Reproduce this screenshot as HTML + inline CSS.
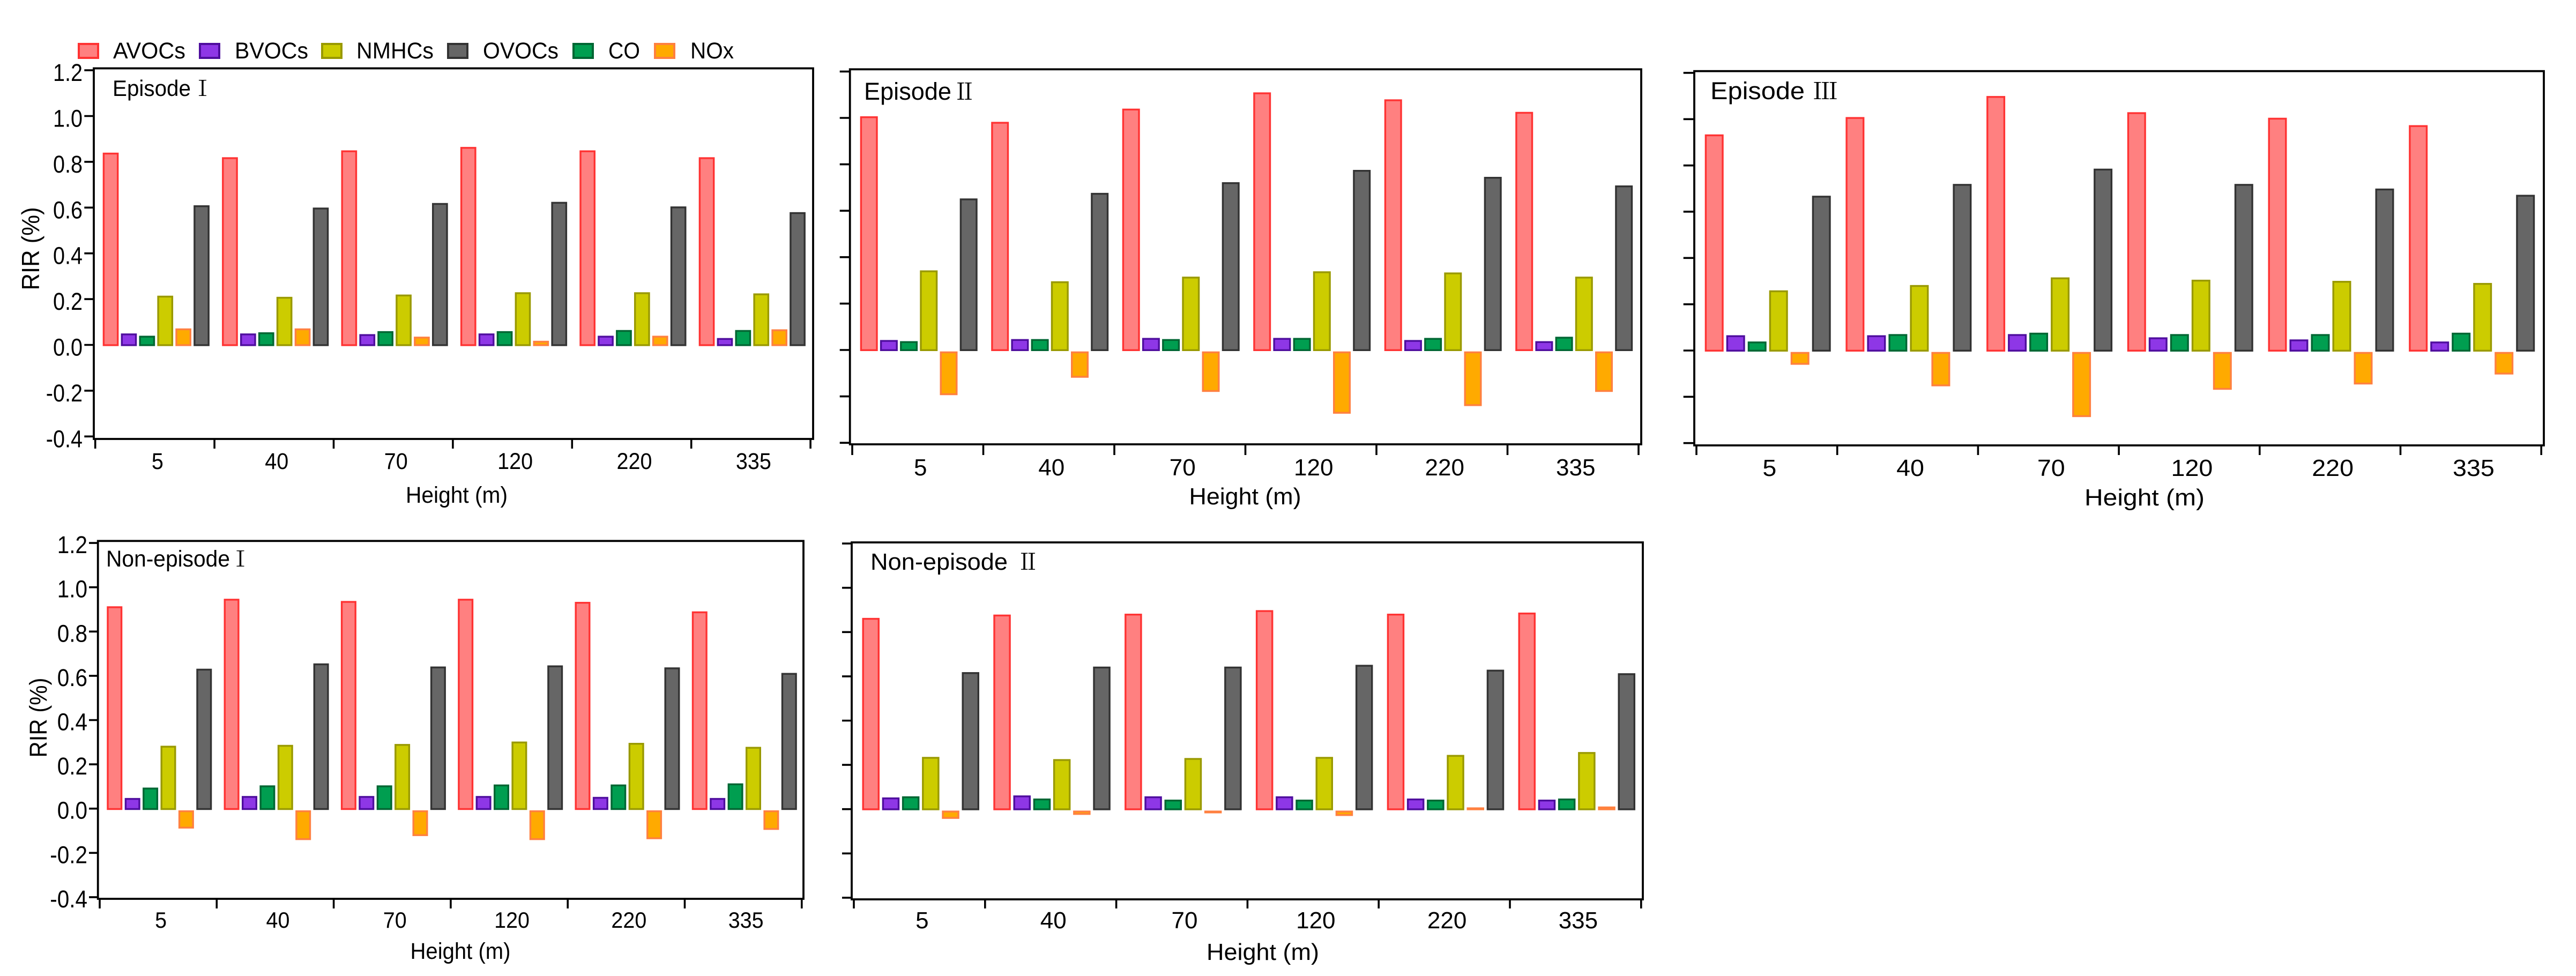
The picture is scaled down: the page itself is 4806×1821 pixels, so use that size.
<!DOCTYPE html>
<html lang="en">
<head>
<meta charset="utf-8">
<title>RIR by height for episodes and non-episodes</title>
<style>
html,body{margin:0;padding:0;background:#fff;}
svg{display:block;}
text{font-family:"Liberation Sans",Arial,sans-serif;fill:#000;}
.roman{font-family:"Noto Serif CJK SC","Liberation Serif",serif;}
</style>
</head>
<body>
<svg id="chart" xmlns="http://www.w3.org/2000/svg" width="4806" height="1821" viewBox="0 0 4806 1821">
  <rect x="0" y="0" width="4806" height="1821" fill="#fff"/>

  <g>
    <g>
      <rect x="147" y="82" width="36" height="26" fill="#ff8080" stroke="#ff3333" stroke-width="4"/>
      <text x="211" y="109" font-size="43" textLength="135" lengthAdjust="spacingAndGlyphs">AVOCs</text>
    </g>
    <g>
      <rect x="373" y="82" width="36" height="26" fill="#8e37e6" stroke="#4f0e9e" stroke-width="4"/>
      <text x="438" y="109" font-size="43" textLength="137" lengthAdjust="spacingAndGlyphs">BVOCs</text>
    </g>
    <g>
      <rect x="601" y="82" width="36" height="26" fill="#cccc00" stroke="#999900" stroke-width="4"/>
      <text x="665" y="109" font-size="43" textLength="144" lengthAdjust="spacingAndGlyphs">NMHCs</text>
    </g>
    <g>
      <rect x="836" y="82" width="36" height="26" fill="#666666" stroke="#333333" stroke-width="4"/>
      <text x="901" y="109" font-size="43" textLength="141" lengthAdjust="spacingAndGlyphs">OVOCs</text>
    </g>
    <g>
      <rect x="1070" y="82" width="36" height="26" fill="#009e50" stroke="#006633" stroke-width="4"/>
      <text x="1135" y="109" font-size="43" textLength="59" lengthAdjust="spacingAndGlyphs">CO</text>
    </g>
    <g>
      <rect x="1222" y="82" width="36" height="26" fill="#ffaa00" stroke="#ff8040" stroke-width="4"/>
      <text x="1288" y="109" font-size="43" textLength="81" lengthAdjust="spacingAndGlyphs">NOx</text>
    </g>
  </g>

  <g id="panel-1">
    <rect x="175" y="127.5" width="1342" height="691.5" fill="none" stroke="#000" stroke-width="3.8"/>
    <text x="210" y="179" font-size="42" textLength="146" lengthAdjust="spacingAndGlyphs">Episode</text>
    <text class="roman" x="378" y="179" font-size="40" text-anchor="middle">Ⅰ</text>
    <text x="852" y="938" font-size="43" text-anchor="middle" textLength="190" lengthAdjust="spacingAndGlyphs">Height (m)</text>
    <text transform="translate(73,464) rotate(-90)" font-size="46" text-anchor="middle" textLength="155" lengthAdjust="spacingAndGlyphs">RIR (%)</text>
  </g>

  <g id="panel-2">
    <rect x="1585.7" y="129.3" width="1476.3" height="699.7" fill="none" stroke="#000" stroke-width="3.8"/>
    <text x="1612" y="186" font-size="45" textLength="163" lengthAdjust="spacingAndGlyphs">Episode</text>
    <text class="roman" x="1799.5" y="186" font-size="43" text-anchor="middle">Ⅱ</text>
    <text x="2323" y="941" font-size="44" text-anchor="middle" textLength="209" lengthAdjust="spacingAndGlyphs">Height (m)</text>
  </g>

  <g id="panel-3">
    <rect x="3161" y="132.7" width="1585" height="698.3" fill="none" stroke="#000" stroke-width="3.8"/>
    <text x="3191" y="185" font-size="45" textLength="176" lengthAdjust="spacingAndGlyphs">Episode</text>
    <text class="roman" x="3382" y="185" font-size="43" textLength="47" lengthAdjust="spacingAndGlyphs">Ⅲ</text>
    <text x="4001" y="943" font-size="44" text-anchor="middle" textLength="224" lengthAdjust="spacingAndGlyphs">Height (m)</text>
  </g>

  <g id="panel-4">
    <rect x="182.7" y="1009.3" width="1316.3" height="667.7" fill="none" stroke="#000" stroke-width="3.8"/>
    <text x="198" y="1057" font-size="43" textLength="231" lengthAdjust="spacingAndGlyphs">Non-episode</text>
    <text class="roman" x="448.5" y="1057" font-size="40" text-anchor="middle">Ⅰ</text>
    <text x="859" y="1789" font-size="43" text-anchor="middle" textLength="187" lengthAdjust="spacingAndGlyphs">Height (m)</text>
    <text transform="translate(87,1339) rotate(-90)" font-size="45" text-anchor="middle" textLength="149" lengthAdjust="spacingAndGlyphs">RIR (%)</text>
  </g>

  <g id="panel-5">
    <rect x="1589" y="1012" width="1476" height="666" fill="none" stroke="#000" stroke-width="3.8"/>
    <text x="1624" y="1063" font-size="44" textLength="256" lengthAdjust="spacingAndGlyphs">Non-episode</text>
    <text class="roman" x="1918" y="1063" font-size="42" text-anchor="middle">Ⅱ</text>
    <text x="2356" y="1791" font-size="44" text-anchor="middle" textLength="210" lengthAdjust="spacingAndGlyphs">Height (m)</text>
  </g>
</svg>

<script>
// ---- chart data ----
const categories = ['5', '40', '70', '120', '220', '335'];
const yTickValues = [1.2, 1.0, 0.8, 0.6, 0.4, 0.2, 0.0, -0.2, -0.4];

const ep1Avocs = [0.84, 0.82, 0.85, 0.865, 0.85, 0.82];
const ep1Bvocs = [0.05, 0.05, 0.047, 0.05, 0.04, 0.03];
const ep1Co    = [0.04, 0.055, 0.06, 0.06, 0.065, 0.065];
const ep1Nmhcs = [0.215, 0.21, 0.22, 0.23, 0.23, 0.225];
const ep1Nox   = [0.072, 0.072, 0.036, 0.018, 0.04, 0.068];
const ep1Ovocs = [0.61, 0.60, 0.62, 0.625, 0.605, 0.58];

const ep2Avocs = [1.007, 0.983, 1.04, 1.11, 1.08, 1.026];
const ep2Bvocs = [0.043, 0.047, 0.052, 0.052, 0.043, 0.038];
const ep2Co    = [0.038, 0.047, 0.047, 0.052, 0.052, 0.057];
const ep2Nmhcs = [0.343, 0.296, 0.316, 0.339, 0.334, 0.316];
const ep2Nox   = [-0.19, -0.115, -0.176, -0.27, -0.237, -0.176];
const ep2Ovocs = [0.653, 0.677, 0.723, 0.776, 0.746, 0.709];

const ep3Avocs = [0.934, 1.009, 1.10, 1.03, 1.006, 0.974];
const ep3Bvocs = [0.066, 0.066, 0.071, 0.057, 0.048, 0.039];
const ep3Co    = [0.039, 0.071, 0.077, 0.071, 0.071, 0.077];
const ep3Nmhcs = [0.26, 0.283, 0.316, 0.306, 0.301, 0.292];
const ep3Nox   = [-0.057, -0.15, -0.283, -0.165, -0.142, -0.099];
const ep3Ovocs = [0.669, 0.72, 0.786, 0.72, 0.70, 0.673];

const non1Avocs = [0.914, 0.948, 0.938, 0.948, 0.934, 0.891];
const non1Bvocs = [0.048, 0.057, 0.057, 0.057, 0.053, 0.048];
const non1Co    = [0.095, 0.105, 0.105, 0.109, 0.109, 0.114];
const non1Nmhcs = [0.284, 0.288, 0.292, 0.303, 0.297, 0.279];
const non1Nox   = [-0.084, -0.136, -0.118, -0.136, -0.132, -0.09];
const non1Ovocs = [0.632, 0.656, 0.642, 0.647, 0.638, 0.613];

const non2Avocs = [0.864, 0.879, 0.883, 0.899, 0.883, 0.888];
const non2Bvocs = [0.053, 0.062, 0.058, 0.058, 0.048, 0.043];
const non2Co    = [0.058, 0.048, 0.043, 0.043, 0.043, 0.048];
const non2Nmhcs = [0.236, 0.226, 0.231, 0.236, 0.245, 0.258];
const non2Nox   = [-0.039, -0.021, -0.014, -0.026, 0.008, 0.012];
const non2Ovocs = [0.619, 0.644, 0.644, 0.652, 0.63, 0.614];

// ---- styles and layout (separate from data) ----
const seriesStyles = [
  {key: 'avocs', fill: '#ff8080', stroke: '#ff3333'},
  {key: 'bvocs', fill: '#8e37e6', stroke: '#4f0e9e'},
  {key: 'co',    fill: '#009e50', stroke: '#006633'},
  {key: 'nmhcs', fill: '#cccc00', stroke: '#999900'},
  {key: 'nox',   fill: '#ffaa00', stroke: '#ff8040'},
  {key: 'ovocs', fill: '#666666', stroke: '#333333'}
];

const panels = [
  {id: 'panel-1', series: [ep1Avocs, ep1Bvocs, ep1Co, ep1Nmhcs, ep1Nox, ep1Ovocs],
   axisX: 175, x0: 177.7, groupW: 222.4, y0: 643.5, k: 427, baseOff: 2.2, barOff: 14, pitch: 33.9, barW: 29.7,
   frameBottom: 819, tickBottom: 837, tickLen: 17.7, labelBase: 875, labelSize: 43, labelSx: 0.92,
   showY: true, yEnd: 154, ySx: 0.88, ySize: 45, yDrop: 20},
  {id: 'panel-2', series: [ep2Avocs, ep2Bvocs, ep2Co, ep2Nmhcs, ep2Nox, ep2Ovocs],
   axisX: 1585.7, x0: 1590, groupW: 244.5, y0: 653, k: 433, baseOff: 2, barOff: 14.7, pitch: 37.2, barW: 33,
   frameBottom: 829, tickBottom: 849, tickLen: 19, labelBase: 887, labelSize: 44, labelSx: 1,
   showY: false},
  {id: 'panel-3', series: [ep3Avocs, ep3Bvocs, ep3Co, ep3Nmhcs, ep3Nox, ep3Ovocs],
   axisX: 3161, x0: 3165, groupW: 262.7, y0: 654, k: 431.7, baseOff: 2, barOff: 15.7, pitch: 40, barW: 35,
   frameBottom: 831, tickBottom: 849, tickLen: 20.3, labelBase: 888, labelSize: 44, labelSx: 1.06,
   showY: false},
  {id: 'panel-4', series: [non1Avocs, non1Bvocs, non1Co, non1Nmhcs, non1Nox, non1Ovocs],
   axisX: 182.7, x0: 186, groupW: 218.3, y0: 1508.7, k: 413, baseOff: 2.5, barOff: 13.3, pitch: 33.4, barW: 29,
   frameBottom: 1677, tickBottom: 1695, tickLen: 16.7, labelBase: 1731, labelSize: 42, labelSx: 0.94,
   showY: true, yEnd: 163, ySx: 0.9, ySize: 45, yDrop: 19},
  {id: 'panel-5', series: [non2Avocs, non2Bvocs, non2Co, non2Nmhcs, non2Nox, non2Ovocs],
   axisX: 1589, x0: 1593, groupW: 244.8, y0: 1509.7, k: 413, baseOff: 2, barOff: 15.5, pitch: 37.2, barW: 32.5,
   frameBottom: 1678, tickBottom: 1695, tickLen: 18, labelBase: 1732, labelSize: 44, labelSx: 1,
   showY: false}
];

const SVG_NS = 'http://www.w3.org/2000/svg';

function make(tag, attrs, parent) {
  const el = document.createElementNS(SVG_NS, tag);
  for (const k in attrs) el.setAttribute(k, attrs[k]);
  parent.appendChild(el);
  return el;
}

panels.forEach(function (p) {
  const root = document.getElementById(p.id);
  const yScale = function (v) { return p.y0 - v * p.k; };
  const groupX = function (i) { return p.x0 + i * p.groupW; };

  // y ticks
  yTickValues.forEach(function (v) {
    const ty = yScale(v);
    const tick = make('line', {x1: p.axisX - p.tickLen, x2: p.axisX, y1: ty, y2: ty, stroke: '#000', 'stroke-width': 3.6}, root);
    
    
    if (p.showY) {
      const lab = make('text', {transform: 'translate(' + p.yEnd + ',' + (ty + p.yDrop) + ') scale(' + p.ySx + ',1)', 'font-size': p.ySize, 'text-anchor': 'end'}, root);
      lab.textContent = v.toFixed(1);
      
      
    }
  });

  // x ticks
  for (let i = 0; i <= categories.length; i++) {
    const tick = make('line', {x1: groupX(i), x2: groupX(i), y1: p.frameBottom, y2: p.tickBottom, stroke: '#000', 'stroke-width': 3.6}, root);
    
    
  }

  // x labels
  categories.forEach(function (c, i) {
    const cx = groupX(i) + p.groupW / 2 + 5;
    const lab = make('text', {transform: 'translate(' + cx + ',' + p.labelBase + ') scale(' + p.labelSx + ',1)', 'font-size': p.labelSize, 'text-anchor': 'middle'}, root);
    lab.textContent = c;
    
    
  });

  // bars
  const sw = 3.4;
  p.series.forEach(function (values, s) {
    const style = seriesStyles[s];
    values.forEach(function (v, i) {
      const bx = groupX(i) + p.barOff + s * p.pitch;
      const base = p.y0 + p.baseOff;
      const top = v >= 0 ? yScale(v) : base + 0.7;
      const bottom = v >= 0 ? base : yScale(v) + p.baseOff;
      const h = Math.max(bottom - top - sw, 0.5);
      const bar = make('rect', {
        x: bx + sw / 2, y: top + sw / 2, width: p.barW - sw, height: h,
        fill: style.fill, stroke: style.stroke, 'stroke-width': sw
      }, root);
      
      
    });
  });
});
</script>
</body>
</html>
